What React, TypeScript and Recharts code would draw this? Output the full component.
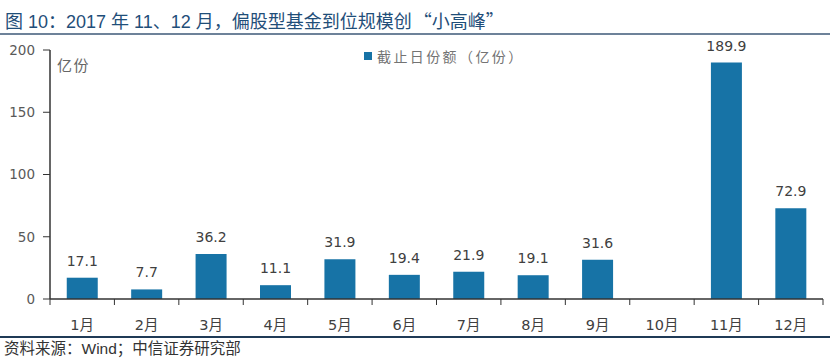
import React from 'react';
import { BarChart, Bar, XAxis, YAxis, Legend, LabelList } from 'recharts';

const months = ['1月', '2月', '3月', '4月', '5月', '6月', '7月', '8月', '9月', '10月', '11月', '12月'];
const shares: (number | null)[] = [17.1, 7.7, 36.2, 11.1, 31.9, 19.4, 21.9, 19.1, 31.6, null, 189.9, 72.9];
const yTicks = [0, 50, 100, 150, 200];

const seriesName = '截止日份额（亿份）';
const titleMain = '图 10：2017 年 11、12 月，偏股型基金到位规模创';
const titleQuoted = '小高峰';
const sourceText = '资料来源：Wind；中信证券研究部';
const unitText = '亿份';

const data = months.map((m, i) => ({ month: m, value: shares[i] }));

const BAR_COLOR = '#1773a6';
const AXIS_COLOR = '#333333';
const FONT = '"Liberation Sans", "Noto Sans CJK SC", sans-serif';
const CJK = '"Noto Sans CJK SC", sans-serif';
const NUM_FONT = '"DejaVu Sans", "Noto Sans CJK SC", sans-serif';
const X_TICK_MARGIN = 15;

const XTick = (props: any) => {
  const { x, y, payload, index, visibleTicksCount } = props;
  const half = payload && payload.offset ? payload.offset : 0;
  const axisY = y - X_TICK_MARGIN;
  return (
    <g>
      <line x1={x - half} x2={x - half} y1={axisY - 6} y2={axisY} stroke={AXIS_COLOR} strokeWidth={1} />
      {index === visibleTicksCount - 1 && (
        <line x1={x + half} x2={x + half} y1={axisY - 6} y2={axisY} stroke={AXIS_COLOR} strokeWidth={1} />
      )}
      <text x={x} y={y} dy="0.71em" textAnchor="middle" fill="#404040" fontSize={14.5} fontFamily={NUM_FONT}>
        {payload.value}
      </text>
    </g>
  );
};

const LegendContent = (props: any) => {
  const items = props.payload || [];
  return (
    <div style={{ display: 'flex', alignItems: 'center' }}>
      {items.map((it: any) => (
        <div key={it.value} style={{ display: 'flex', alignItems: 'center' }}>
          <div style={{ width: 8, height: 8, background: BAR_COLOR, marginRight: 5 }} />
          <span style={{ fontSize: 14, color: '#737373', letterSpacing: 2.4, fontFamily: CJK, lineHeight: '16px' }}>
            {it.value}
          </span>
        </div>
      ))}
    </div>
  );
};

export default function App() {
  return (
    <div style={{ position: 'absolute', left: 0, top: 0, width: 837, height: 362, background: '#ffffff', fontFamily: FONT }}>
      <div style={{ position: 'absolute', left: 5, top: 9, fontSize: 18, color: '#1f4e79', whiteSpace: 'nowrap', lineHeight: '22px' }}>
        {titleMain}
        <span style={{ fontFamily: CJK, marginLeft: 2 }}>“</span>
        {titleQuoted}
        <span style={{ fontFamily: CJK }}>”</span>
      </div>
      <div style={{ position: 'absolute', left: 0, top: 33, width: 830, height: 2, background: '#6d8299' }} />
      <div style={{ position: 'absolute', left: 0, top: 0 }}>
        <BarChart width={837} height={362} data={data} margin={{ top: 50, right: 14, bottom: 33, left: 10 }} barCategoryGap="26%">
          <XAxis
            dataKey="month"
            height={30}
            tickLine={false}
            tickMargin={X_TICK_MARGIN}
            axisLine={{ stroke: AXIS_COLOR, strokeWidth: 1.5 }}
            tick={<XTick />}
            interval={0}
          />
          <YAxis
            width={40}
            domain={[0, 200]}
            ticks={yTicks}
            tickSize={7}
            tickMargin={8}
            axisLine={{ stroke: AXIS_COLOR, strokeWidth: 1.5 }}
            tickLine={{ stroke: AXIS_COLOR }}
            tick={{ fill: '#595959', fontSize: 13.5, fontFamily: NUM_FONT }}
          />
          <Legend verticalAlign="middle" align="center" wrapperStyle={{ top: 48, left: 364, width: 'auto' }} content={<LegendContent />} />
          <Bar dataKey="value" name={seriesName} fill={BAR_COLOR} isAnimationActive={false}>
            <LabelList
              dataKey="value"
              position="top"
              offset={12}
              fill="#404040"
              fontSize={14}
              fontFamily={NUM_FONT}
              formatter={(v: any) => (v === null || v === undefined ? '' : Number(v).toFixed(1))}
            />
          </Bar>
        </BarChart>
      </div>
      <div style={{ position: 'absolute', left: 57, top: 56, fontSize: 15, color: '#666666', lineHeight: '18px', fontFamily: CJK, letterSpacing: 1.5 }}>
        {unitText}
      </div>
      <div style={{ position: 'absolute', left: 0, top: 336, width: 830, height: 2, background: '#1f3a56' }} />
      <div style={{ position: 'absolute', left: 4, top: 339, fontSize: 15.5, color: '#333333', whiteSpace: 'nowrap', lineHeight: '20px' }}>
        {sourceText}
      </div>
    </div>
  );
}
